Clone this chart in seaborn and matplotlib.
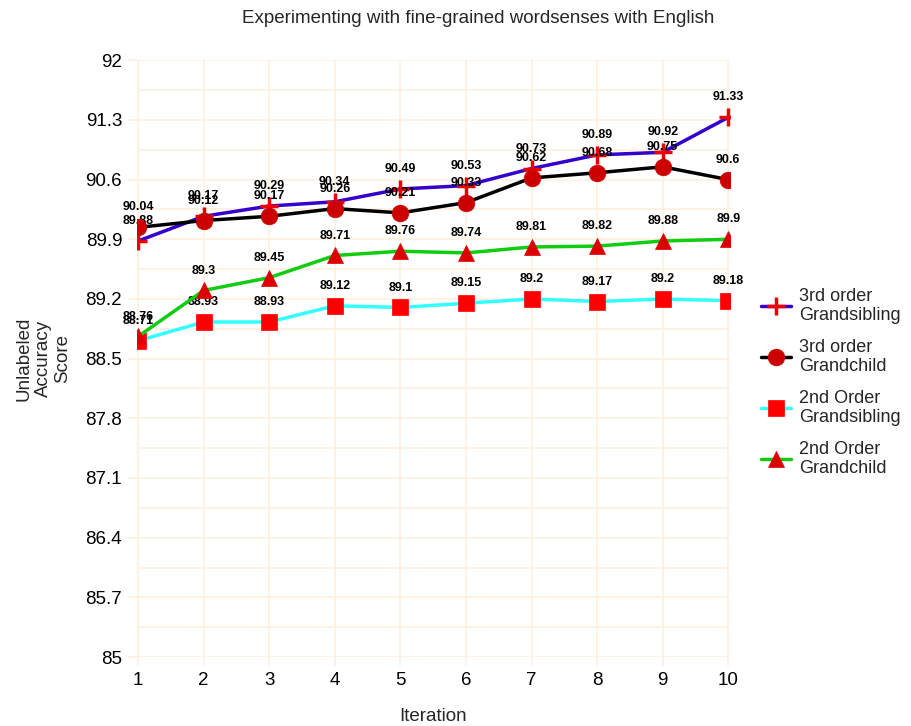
import numpy as np
import pandas as pd
import matplotlib
matplotlib.use("Agg")
import matplotlib.pyplot as plt
import seaborn as sns

# Data
iterations = [1, 2, 3, 4, 5, 6, 7, 8, 9, 10]
gs3 = [89.88, 90.17, 90.29, 90.34, 90.49, 90.53, 90.73, 90.89, 90.92, 91.33]
gc3 = [90.04, 90.12, 90.17, 90.26, 90.21, 90.33, 90.62, 90.68, 90.75, 90.6]
gs2 = [88.71, 88.93, 88.93, 89.12, 89.1, 89.15, 89.2, 89.17, 89.2, 89.18]
gc2 = [88.76, 89.3, 89.45, 89.71, 89.76, 89.74, 89.81, 89.82, 89.88, 89.9]
y_ticks = [85, 85.7, 86.4, 87.1, 87.8, 88.5, 89.2, 89.9, 90.6, 91.3, 92]
y_tick_labels = ["85", "85.7", "86.4", "87.1", "87.8", "88.5", "89.2", "89.9", "90.6", "91.3", "92"]

sns.set_theme(style="white")
plt.rcParams["font.family"] = ["Liberation Sans", "DejaVu Sans"]

fig = plt.figure(figsize=(9.12, 7.26), dpi=100)
ax = fig.add_axes([0.150, 0.095, 0.650, 0.822])

series = [
    ("3rd order\nGrandsibling", gs3, "#3300cc", "+", "#ee0000", 13, 2.5),
    ("3rd order\nGrandchild", gc3, "#000000", "o", "#cc0000", 12, 0),
    ("2nd Order\nGrandsibling", gs2, "#33ffff", "s", "#ff0000", 12, 0),
    ("2nd Order\nGrandchild", gc2, "#11cc11", "^", "#dd0000", 12, 0),
]

for name, vals, lc, mk, mc, ms, mew in series:
    df = pd.DataFrame({"Iteration": iterations, "Score": vals})
    sns.lineplot(data=df, x="Iteration", y="Score", ax=ax, color=lc, linewidth=2.5,
                 marker=mk, markersize=ms, markerfacecolor=mc, markeredgecolor=mc,
                 markeredgewidth=mew if mew else 0.5, label=name, zorder=3)
    for x, y in zip(iterations, vals):
        ax.annotate(f"{y:g}", (x, y), xytext=(0, 10), textcoords="offset points",
                    ha="center", va="bottom", fontsize=9, fontweight="bold", color="black")

ax.set_xlim(0.98, 10.02)
ax.set_ylim(85, 92)
ax.set_xticks(iterations)
ax.set_yticks(y_ticks)
ax.set_yticklabels(y_tick_labels)
ax.set_yticks([t + 0.35 for t in y_ticks[:-1]], minor=True)
ax.grid(True, which="major", color="#fff0e0", linewidth=1.2, zorder=0)
ax.grid(True, which="minor", axis="y", color="#fff0e0", linewidth=1.2, zorder=0)
for s in ax.spines.values():
    s.set_visible(False)
ax.tick_params(axis="both", which="major", labelsize=13.5, colors="#fff0e0",
               labelcolor="black", length=6.5, pad=4, left=True, bottom=True)
ax.set_xlabel("Iteration", fontsize=13.5, labelpad=14)
ax.set_ylabel("Unlabeled\nAccuracy\nScore", fontsize=13.5, labelpad=10)
fig.text(0.524, 0.975, "Experimenting with fine-grained wordsenses with English",
         ha="center", va="center", fontsize=13.5)

ax.legend(loc="center left", bbox_to_anchor=(1.025, 0.46), frameon=False, fontsize=13,
          labelspacing=0.8, handlelength=1.7, handletextpad=0.45)

fig.savefig("out.png", dpi=100)
